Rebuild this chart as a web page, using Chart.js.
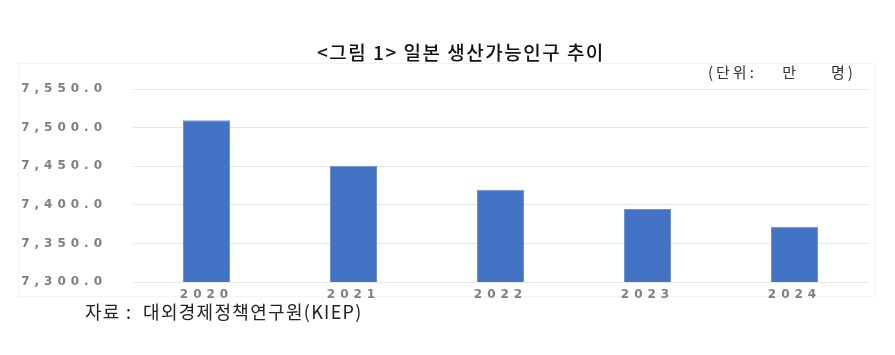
<!DOCTYPE html>
<html>
<head>
<meta charset="utf-8">
<script src="https://cdn.jsdelivr.net/npm/chart.js@4"></script>
<style>
  body { margin: 0; background: #fff; }
  .wrap { position: relative; width: 895px; height: 355px; overflow: hidden; }
  #chart { position: absolute; left: 0; top: 0; }
  .frame { position: absolute; left: 18px; top: 63px; width: 855px; height: 232px; border: 1px solid #f3f3f3; }
  .title { position: absolute; left: 317px; top: 38px; font-family: "Noto Sans CJK KR"; font-weight: 500; font-size: 19px; letter-spacing: 1.5px; color: #111; white-space: pre; }
  .unit { position: absolute; left: 708px; top: 61px; font-family: "Noto Sans CJK KR"; font-size: 15px; letter-spacing: 3px; color: #333; white-space: pre; }
  .source { position: absolute; left: 85px; top: 298px; font-family: "Noto Sans CJK KR"; font-size: 18px; letter-spacing: 1.3px; color: #222; white-space: pre; }
</style>
</head>
<body>
<div class="wrap">
  <div class="frame"></div>
  <canvas id="chart" width="895" height="355"></canvas>
  <div class="title">&lt;그림 1&gt; 일본 생산가능인구 추이</div>
  <div class="unit">(단위:    만     명)</div>
  <div class="source">자료 :  대외경제정책연구원(KIEP)</div>
</div>
<script>
const years = ['2020', '2021', '2022', '2023', '2024'];
const workingAgePop = [7509.5, 7450.5, 7419.5, 7394.5, 7371.5];
const yTickValues = [7300, 7350, 7400, 7450, 7500, 7550];

// spread the tick text out like the wide axis font in the original
const spacing = {
    id: 'spacing',
    beforeLayout(chart) { chart.ctx.letterSpacing = '5px'; },
    beforeDraw(chart) { chart.ctx.letterSpacing = '5px'; }
};

const ctx = document.getElementById('chart').getContext('2d');

const chart = new Chart(ctx, {
    type: 'bar',
    data: {
        labels: years,
        datasets: [{
            data: workingAgePop,
            backgroundColor: '#4472c4',
            borderColor: '#6f93d6',
            borderWidth: 1,
            barPercentage: 0.32,
            categoryPercentage: 1
        }]
    },
    options: {
        responsive: false,
        animation: false,
        layout: { padding: { left: 18, top: 89, right: 27, bottom: 53 } },
        plugins: { legend: { display: false }, tooltip: { enabled: false } },
        scales: {
            x: {
                grid: { display: false, drawTicks: false },
                border: { display: false },
                ticks: { color: '#7f7f7f', font: { family: 'DejaVu Sans', size: 12, weight: 'bold' }, padding: 6 },
                afterFit(scale) { scale.height = 20; }
            },
            y: {
                min: yTickValues[0],
                max: yTickValues[yTickValues.length - 1],
                afterBuildTicks(scale) { scale.ticks = yTickValues.map(v => ({ value: v })); },
                grid: { color: '#e6e6e6', lineWidth: 1, drawTicks: false },
                border: { display: false },
                ticks: {
                    color: '#7f7f7f',
                    font: { family: 'DejaVu Sans', size: 12, weight: 'bold' },
                    padding: 26,
                    callback: v => v.toLocaleString('en-US', { minimumFractionDigits: 1, maximumFractionDigits: 1 })
                },
                afterFit(scale) { scale.width = 115; }
            }
        }
    },
    plugins: [spacing]
});
</script>
</body>
</html>
